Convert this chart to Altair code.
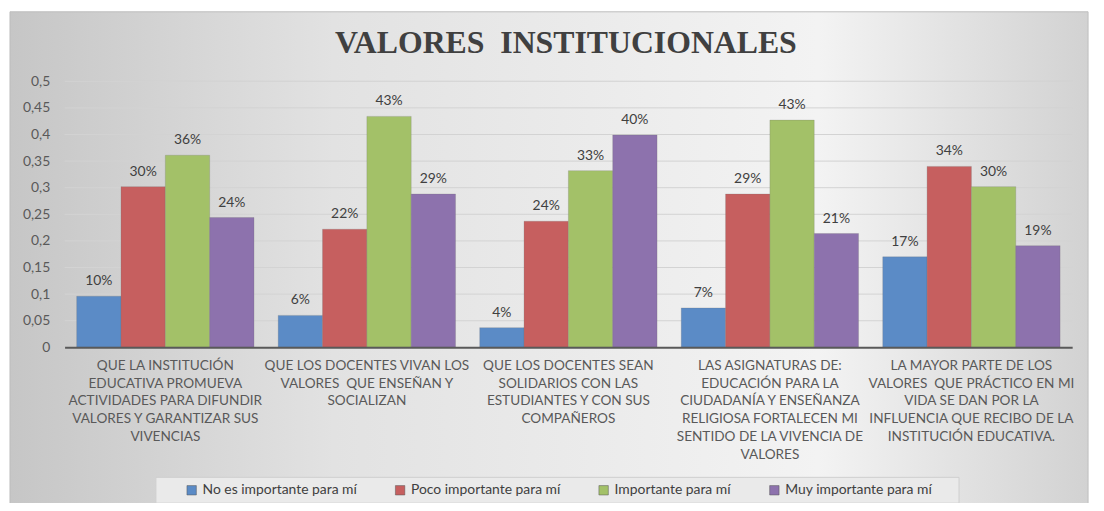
import altair as alt
import pandas as pd

title_text = "VALORES\u00a0\u00a0INSTITUCIONALES"

categories = [
    "QUE LA INSTITUCIÓN|EDUCATIVA PROMUEVA|ACTIVIDADES PARA DIFUNDIR|VALORES Y GARANTIZAR SUS|VIVENCIAS",
    "QUE LOS DOCENTES VIVAN LOS|VALORES\u00a0 QUE ENSEÑAN Y|SOCIALIZAN",
    "QUE LOS DOCENTES SEAN|SOLIDARIOS CON LAS|ESTUDIANTES Y CON SUS|COMPAÑEROS",
    "LAS ASIGNATURAS DE:|EDUCACIÓN PARA LA|CIUDADANÍA Y ENSEÑANZA|RELIGIOSA FORTALECEN MI|SENTIDO DE LA VIVENCIA DE|VALORES",
    "LA MAYOR PARTE DE LOS|VALORES\u00a0 QUE PRÁCTICO EN MI|VIDA SE DAN POR LA|INFLUENCIA QUE RECIBO DE LA|INSTITUCIÓN EDUCATIVA.",
]

series = [
    "No es importante para mí",
    "Poco importante para mí",
    "Importante para mí",
    "Muy importante para mí",
]

no_importante = [0.096, 0.060, 0.037, 0.074, 0.170]
poco_importante = [0.302, 0.222, 0.237, 0.288, 0.340]
importante = [0.361, 0.434, 0.332, 0.427, 0.302]
muy_importante = [0.244, 0.288, 0.399, 0.214, 0.191]

y_ticks = [0, 0.05, 0.1, 0.15, 0.2, 0.25, 0.3, 0.35, 0.4, 0.45, 0.5]

colors = ["#5B8BC6", "#C65F5F", "#A3C168", "#8D72AD"]

rows = []
for s, vals in zip(series, [no_importante, poco_importante, importante, muy_importante]):
    for c, v in zip(categories, vals):
        rows.append({"cat": c, "serie": s, "valor": v})
df = pd.DataFrame(rows)

W, H = 1015, 268
font = "Lato"
gray = "#595959"

bg = alt.Chart(pd.DataFrame({"a": [0]})).mark_rect(
    color=alt.Gradient(
        gradient="linear",
        x1=0, x2=1, y1=0, y2=0,
        stops=[
            alt.GradientStop(color="#c6c6c6", offset=0),
            alt.GradientStop(color="#e2e2e2", offset=0.3),
            alt.GradientStop(color="#f3f3f3", offset=0.75),
            alt.GradientStop(color="#d2d2d2", offset=1),
        ],
    ),
    stroke="#bdbdbd",
    strokeWidth=1,
).encode(
    x=alt.value(-55), x2=alt.value(1031), y=alt.value(-70), y2=alt.value(427)
)

legend_box = alt.Chart(pd.DataFrame({"a": [0]})).mark_rect(
    fill="#eaeaea", stroke="#d0d0d0", strokeWidth=1
).encode(
    x=alt.value(92), x2=alt.value(901), y=alt.value(399), y2=alt.value(425)
)

title = alt.Chart(pd.DataFrame({"t": [title_text]})).mark_text(
    font="Liberation Serif", fontSize=32, fontWeight="bold", color="#404040",
    align="center", baseline="middle",
).encode(text="t:N", x=alt.value(505), y=alt.value(-38))

y_scale = alt.Scale(domain=[0, 0.5], nice=False)


def y_axis():
    return alt.Axis(
        title=None, values=y_ticks,
        labelExpr="replace(format(datum.value, '.2~f'), '.', ',')",
        labelFontSize=14, labelFont=font, labelColor=gray, labelPadding=15,
        labelOverlap=False,
        ticks=False, domain=False, grid=False, zindex=2,
    )


def x_axis():
    return alt.Axis(
        title=None, labelAngle=0, labelExpr="split(datum.label, '|')",
        labelLimit=400, labelLineHeight=18, labelFontSize=13.7, labelFont=font,
        labelColor=gray, labelPadding=11, ticks=False, domainColor="#595959",
        domainWidth=2, labelBaseline="top", zindex=2,
    )


x_scale = alt.Scale(paddingInner=0.12, paddingOuter=0.06)

grid = alt.Chart(pd.DataFrame({"valor": y_ticks[1:]})).mark_rule(
    color="#d3d3d3", strokeWidth=1
).encode(y=alt.Y("valor:Q", scale=y_scale, axis=y_axis()))

xo = alt.XOffset("serie:N", sort=series, scale=alt.Scale(paddingInner=0, paddingOuter=0))

bars = alt.Chart(df).mark_bar(stroke="#6f6f6f", strokeWidth=0.4, strokeOpacity=0.6).encode(
    x=alt.X("cat:N", sort=categories, scale=x_scale, axis=x_axis()),
    xOffset=xo,
    y=alt.Y("valor:Q", scale=y_scale, axis=y_axis()),
    color=alt.Color(
        "serie:N", sort=series,
        scale=alt.Scale(domain=series, range=colors),
        legend=alt.Legend(
            title=None, orient="none", legendX=121, legendY=405, direction="horizontal",
            columns=4, columnPadding=36, gridAlign="each", symbolType="square", symbolSize=90,
            symbolStrokeColor="#555555", symbolStrokeWidth=0.5,
            labelFont=font, labelFontSize=14, labelColor="#404040",
            padding=0, labelLimit=300, zindex=2,
        ),
    ),
)

labels = alt.Chart(df).mark_text(
    dy=-15, fontSize=14, font=font, color="#404040", baseline="middle"
).encode(
    x=alt.X("cat:N", sort=categories, scale=x_scale, axis=x_axis()),
    xOffset=xo,
    y=alt.Y("valor:Q", scale=y_scale, axis=y_axis()),
    text=alt.Text("valor:Q", format=".0%"),
)

chart = alt.layer(bg, legend_box, title, grid, bars, labels).properties(
    width=W, height=H,
    autosize=alt.AutoSizeParams(type="none"),
    padding={"left": 57, "top": 72, "right": 24, "bottom": 155},
    background="white",
).configure_view(stroke=None)

chart.save("out.html", embed_options={"renderer": "svg", "actions": False})
